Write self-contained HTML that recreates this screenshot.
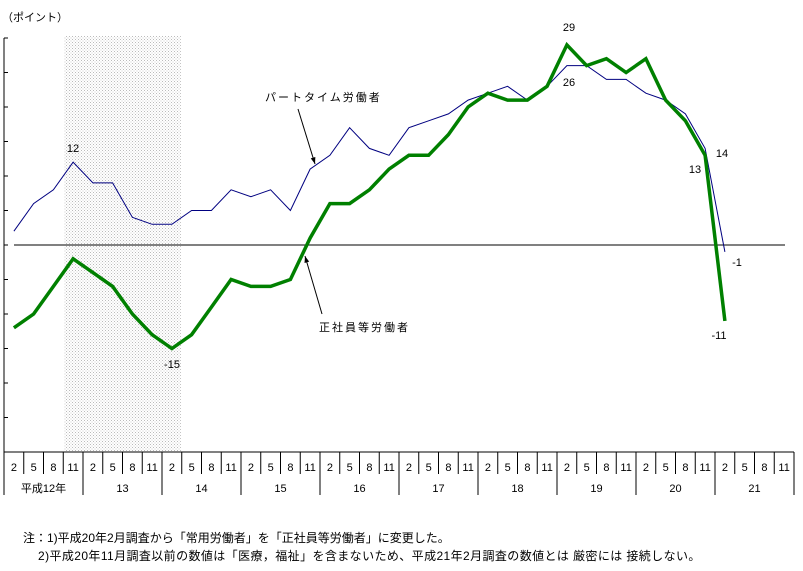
<!DOCTYPE html>
<html><head><meta charset="utf-8"><style>
html,body{margin:0;padding:0;background:#fff}
svg{display:block;font-family:"Liberation Sans","Noto Sans CJK JP",sans-serif}
.note{position:absolute;left:0;font:12px "Liberation Sans","Noto Sans CJK JP",sans-serif;color:#000;white-space:nowrap}
</style></head><body>
<div style="position:relative;width:803px;height:571px;overflow:hidden">
<svg id="chart" width="803" height="571">
<defs><pattern id="dots" width="3" height="3" patternUnits="userSpaceOnUse"><rect width="3" height="3" fill="#fff"/><rect width="1" height="1" fill="#bbb"/><rect x="1.5" y="1.5" width="1" height="1" fill="#ccc"/></pattern></defs>
</svg>
<div class="note" style="top:529px;left:23px">注：1)平成20年2月調査から「常用労働者」を「正社員等労働者」に変更した。</div>
<div class="note" style="top:547px;left:38px;letter-spacing:0.4px">2)平成20年11月調査以前の数値は「医療，福祉」を含まないため、平成21年2月調査の数値とは 厳密には 接続しない。</div>
</div>
<script>
const years = ["平成12年","13","14","15","16","17","18","19","20","21"];
const months = ["2","5","8","11"];
const partTime = [2,6,8,12,9,9,4,3,3,5,5,8,7,8,5,11,13,17,14,13,17,18,19,21,22,23,21,23,26,26,24,24,22,21,19,14,-1];
const regular = [-12,-10,-6,-2,-4,-6,-10,-13,-15,-13,-9,-5,-6,-6,-5,1,6,6,8,11,13,13,16,20,22,21,21,23,29,26,27,25,27,21,18,13,-11];
const yTicks = [30,25,20,15,10,5,0,-5,-10,-15,-20,-25,-30];
const shadeFrom = 3, shadeTo = 8;

const svg = document.getElementById('chart');
const NS = 'http://www.w3.org/2000/svg';
const X0 = 4, COL = 19.75, Y0 = 245, PER = 6.9;
const xOf = i => X0 + COL * (i + 0.5);
const yOf = v => Y0 - v * PER;
function mk(tag, attrs, parent) { const e = document.createElementNS(NS, tag); for (const k in attrs) e.setAttribute(k, attrs[k]); (parent || svg).appendChild(e); return e; }
function txt(x, y, s, anchor) { const t = mk('text', {x, y, 'font-size': 11, 'text-anchor': anchor || 'middle', fill: '#000'}); t.textContent = s; return t; }

const band = mk('rect', {x: xOf(shadeFrom) - 9, y: 36, width: xOf(shadeTo) - xOf(shadeFrom) + 18, height: 416, fill: 'url(#dots)'});



const yAxis = mk('line', {x1: X0, y1: yOf(yTicks[0]), x2: X0, y2: 495, stroke: '#000', 'stroke-width': 1});


yTicks.forEach(v => {
  const t = mk('line', {x1: X0, y1: yOf(v), x2: X0 + 4, y2: yOf(v), stroke: '#000'});
  
  
});
const zero = mk('line', {x1: X0 + 10, y1: Y0, x2: 785, y2: Y0, stroke: '#000'});



const nCols = years.length * months.length;
const right = X0 + COL * nCols;
mk('line', {x1: X0, y1: 452, x2: right, y2: 452, stroke: '#000'});
mk('line', {x1: right, y1: 452, x2: right, y2: 495, stroke: '#000'});
for (let i = 0; i < nCols; i++) {
  const xl = X0 + COL * i;
  if (i > 0) mk('line', {x1: xl, y1: 452, x2: xl, y2: (i % 4 === 0) ? 495 : 474, stroke: '#000'});
  const m = txt(xOf(i), 471, months[i % 4]);
  
  
}
years.forEach((yr, k) => {
  const yt = txt(X0 + COL * (4 * k + 2), 492, yr);
  
  
});

function series(data, color, w, name) {
  const pts = data.map((v, i) => xOf(i).toFixed(1) + ',' + yOf(v).toFixed(1)).join(' ');
  const p = mk('polyline', {points: pts, fill: 'none', stroke: color, 'stroke-width': w, 'stroke-linejoin': 'miter'});
  
  
}
series(partTime, '#000080', 1, 'part-time-line');
series(regular, '#008000', 3.5, 'regular-employee-line');

const unit = txt(2, 21, '（ポイント）', 'start');


const l1 = txt(265, 101, 'パートタイム労働者', 'start');


l1.setAttribute('letter-spacing', '2');
const l2 = txt(319, 331, '正社員等労働者', 'start');


l2.setAttribute('letter-spacing', '2');
function arrow(x1, y1, x2, y2, name) {
  const a = mk('line', {x1, y1, x2, y2, stroke: '#000'});
  
  
  const ang = Math.atan2(y2 - y1, x2 - x1), L = 7, s = 0.35;
  mk('polygon', {points: `${x2},${y2} ${x2 - L * Math.cos(ang - s)},${y2 - L * Math.sin(ang - s)} ${x2 - L * Math.cos(ang + s)},${y2 - L * Math.sin(ang + s)}`, fill: '#000'});
}
arrow(298, 109, 315, 164, 'part-time-arrow');
arrow(322, 314, 305, 256, 'regular-employee-arrow');

const vlabels = [[73,152,'12'],[172,368,'-15'],[569,31,'29'],[569,86,'26'],[722,157,'14'],[695,173,'13'],[737,266,'-1'],[719,339,'-11']];
vlabels.forEach(([x, y, s]) => {
  const t = txt(x, y, s);
  
  
});
</script>
</body></html>
